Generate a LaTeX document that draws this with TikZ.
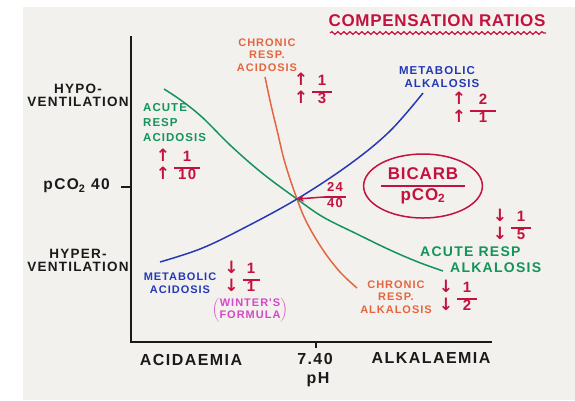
\documentclass[tikz,border=0pt]{standalone}
\usepackage{fontspec}
\setmainfont{Liberation Sans}
\newfontfamily\hand{Liberation Sans}[LetterSpace=9]
\newfontfamily\arr{DejaVu Sans}
\usetikzlibrary{shapes.geometric,decorations.pathmorphing,arrows.meta}
\definecolor{paper}{HTML}{F3F1EE}
\definecolor{ink}{HTML}{1A1A1A}
\definecolor{cgreen}{HTML}{14935A}
\definecolor{corange}{HTML}{E5653E}
\definecolor{cblue}{HTML}{2539B5}
\definecolor{cred}{HTML}{C4123F}
\definecolor{cmag}{HTML}{D548C8}
\newcommand{\arrg}[1]{{\arr\bfseries\fontsize{17}{17}\selectfont #1}}
\newcommand{\ratio}[4]{{\setlength{\arrayrulewidth}{1.7pt}\renewcommand{\arraystretch}{1.12}\begin{tabular}{@{}c@{\hspace{4pt}}c@{}}\arrg{#1}&\makebox[#2]{#3}\\\cline{2-2}\arrg{#1}&#4\end{tabular}}}
\newcommand{\fracbox}[3]{{\setlength{\arrayrulewidth}{1.7pt}\renewcommand{\arraystretch}{1.0}\begin{tabular}{@{}c@{}}\makebox[#1]{#2}\\\hline #3\end{tabular}}}
\begin{document}
\begin{tikzpicture}[x=1pt,y=-1pt,
  lbl/.style={inner sep=0pt, align=center, font=\hand\bfseries\fontsize{11}{12.5}\selectfont},
  axlbl/.style={lbl, text=ink, font=\hand\bfseries\fontsize{13.5}{13}\selectfont},
  bottomlbl/.style={lbl, text=ink, font=\hand\bfseries\fontsize{16}{18}\selectfont},
  ratiolbl/.style={inner sep=0pt, text=cred, font=\hand\bfseries\fontsize{15}{16}\selectfont},
  axis/.style={draw=ink, line width=1.6pt},
  curve/.style={line width=1.5pt},
  ptr/.style={draw=cred, line width=1.5pt, -{Stealth[length=7pt,width=6.5pt]}}
]
\useasboundingbox (0,0) rectangle (575,400);
\fill[white] (0,0) rectangle (575,400);
\fill[paper] (23,7) rectangle (575,400);

% axes
\coordinate (ytop) at (131,36);
\coordinate (O) at (131,342);
\coordinate (xend) at (492,342);
\draw[axis] (ytop) -- (O) -- (xend);
\coordinate (phA) at (316,342);
\coordinate (phB) at (316,348);
\draw[draw=ink, line width=1.2pt] (phA) -- (phB);
\coordinate (pcA) at (121,187);
\coordinate (pcB) at (131,187);
\draw[draw=ink, line width=1.4pt] (pcA) -- (pcB);

% axis labels
\node[axlbl] (hypo) at (78,95) {HYPO-\\VENTILATION};
\node[axlbl] (hyper) at (78,260) {HYPER-\\VENTILATION};
\node[axlbl, anchor=east, font=\hand\bfseries\fontsize{15.5}{15}\selectfont] (pco) at (110,186) {pCO\textsubscript{2} 40};
\node[bottomlbl] (acid) at (191,360) {ACIDAEMIA};
\node[bottomlbl] (seven) at (315,359) {7.40};
\node[bottomlbl] (ph) at (318,380) {pH};
\node[bottomlbl] (alk) at (431,358) {ALKALAEMIA};

% title
\node[lbl, text=cred, font=\hand\bfseries\fontsize{17}{18}\selectfont\addfontfeature{LetterSpace=4}] (title) at (437,21) {COMPENSATION RATIOS};
\coordinate (wA) at (330,33);
\coordinate (wB) at (546,33);
\draw[cred, line width=1.2pt, decorate, decoration={snake, amplitude=1.3pt, segment length=6pt}] (wA) -- (wB);

% curves
\coordinate (X) at (297,199);
\draw[curve, cgreen] plot[smooth, tension=0.6] coordinates {(164,89) (182,101) (203,118) (230,145) (262,173) (297,199) (323,217) (357,234) (390,250) (418,262) (443,271)};
\draw[curve, corange] plot[smooth, tension=0.6] coordinates {(265,77) (271,105) (277,130) (285,163) (297,199) (307,223) (323,250) (340,272) (357,288)};
\draw[curve, cblue] plot[smooth, tension=0.6] coordinates {(160,262) (200,249) (240,230) (297,199) (350,164) (390,131) (423,93)};

% curve labels
\node[lbl, text=corange] (cra) at (267,55) {CHRONIC\\RESP.\\ACIDOSIS};
\node[lbl, text=cblue, font=\hand\bfseries\fontsize{11.5}{13}\selectfont] (mal) at (437,77) {METABOLIC\\\hspace*{10pt}ALKALOSIS};
\node[lbl, text=cgreen, anchor=west, align=left, font=\hand\bfseries\fontsize{11.5}{15}\selectfont] (ara) at (143,123) {ACUTE\\RESP\\ACIDOSIS};
\node[lbl, text=cgreen, anchor=west, align=left, font=\hand\bfseries\fontsize{14}{16}\selectfont] (arl) at (420,260) {ACUTE RESP\\\hspace*{30pt}ALKALOSIS};
\node[lbl, text=corange] (crl) at (396,297) {CHRONIC\\RESP.\\ALKALOSIS};
\node[lbl, text=cblue] (mac) at (180,283) {METABOLIC\\ACIDOSIS};
\node[lbl, text=cmag, font=\hand\bfseries\fontsize{11}{12.5}\selectfont] (win) at (250,310) {$\left(\mbox{\begin{tabular}{@{}c@{}}WINTER'S\\FORMULA\end{tabular}}\right)$};

% ratios
\node[ratiolbl] (r110) at (178,167) {\ratio{↑}{26pt}{1}{10}};
\node[ratiolbl] (r13) at (313,91) {\ratio{↑}{20pt}{1}{3}};
\node[ratiolbl] (r21) at (474,110) {\ratio{↑}{26pt}{2}{1}};
\node[ratiolbl] (r15) at (512,227) {\ratio{↓}{20pt}{1}{5}};
\node[ratiolbl] (r12) at (458,298) {\ratio{↓}{20pt}{1}{2}};
\node[ratiolbl] (r11) at (242,279) {\ratio{↓}{17pt}{1}{1}};
\node[ratiolbl, font=\hand\bfseries\fontsize{13}{14}\selectfont] (r2440) at (335,197) {\fracbox{22pt}{24}{40}};
\draw[ptr] (r2440.west) -- (X);

% bicarb ellipse
\node[ellipse, draw=cred, line width=1.5pt, minimum width=117pt, minimum height=64pt, inner sep=0pt, text=cred, font=\hand\bfseries\fontsize{17}{19}\selectfont\addfontfeature{LetterSpace=5}] (bic) at (423,186) {\fracbox{84pt}{BICARB}{pCO\textsubscript{2}}};
\end{tikzpicture}
\end{document}
